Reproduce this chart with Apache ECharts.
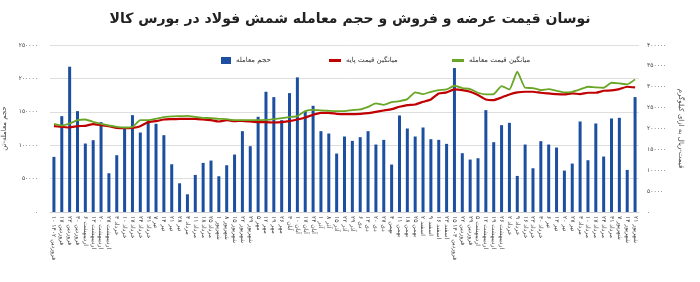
<!DOCTYPE html>
<html>
<head>
    <meta charset="utf-8" />
    <title>steel_billet</title>
    <script src="https://cdn.jsdelivr.net/npm/echarts@6/dist/echarts.min.js"></script>
    <style>
        html, body { margin: 0; padding: 0; background: #fff; }
        #container { width: 700px; height: 282px; }
    </style>
</head>
<body>
    <div id="container"></div>
</body>
</html>
<script>
    // تاریخ جلسات معامله
    var dates = [
        "۱۰ فروردین ۱۴۰۲", "۱۷ فروردین", "۲۳ فروردین", "۳۰ فروردین", "۶ اردیبهشت", "۱۳ اردیبهشت",
        "۲۰ اردیبهشت", "۲۷ اردیبهشت", "۳ خرداد", "۱۰ خرداد", "۱۷ خرداد", "۲۴ خرداد", "۳۱ خرداد",
        "۷ تیر", "۱۴ تیر", "۲۱ تیر", "۲۸ تیر", "۴ مرداد", "۱۱ مرداد", "۱۸ مرداد", "۲۵ مرداد",
        "۱ شهریور", "۸ شهریور", "۱۵ شهریور", "۲۲ شهریور", "۲۹ شهریور", "۵ مهر", "۱۲ مهر", "۱۹ مهر",
        "۲۶ مهر", "۳ آبان", "۱۰ آبان", "۱۷ آبان", "۲۴ آبان", "۱ آذر", "۸ آذر", "۱۵ آذر", "۲۲ آذر",
        "۲۹ آذر", "۶ دی", "۱۳ دی", "۲۰ دی", "۲۷ دی", "۴ بهمن", "۱۱ بهمن", "۱۸ بهمن", "۲۵ بهمن",
        "۲ اسفند", "۹ اسفند", "۱۶ اسفند", "۲۳ اسفند", "۱۵ فروردین ۱۴۰۳", "۲۲ فروردین", "۲۹ فروردین",
        "۵ اردیبهشت", "۱۲ اردیبهشت", "۱۹ اردیبهشت", "۲۶ اردیبهشت", "۲ خرداد", "۹ خرداد", "۱۶ خرداد",
        "۲۳ خرداد", "۳۰ خرداد", "۶ تیر", "۱۳ تیر", "۲۰ تیر", "۲۷ تیر", "۳ مرداد", "۱۰ مرداد",
        "۱۷ مرداد", "۲۴ مرداد", "۳۱ مرداد", "۷ شهریور", "۱۴ شهریور", "۲۱ شهریور"
    ];

    // حجم معامله (تن)
    var volume = [
        82500, 143500, 217500, 151000, 102500, 107500, 134500, 58000, 85000, 125000,
        145000, 119000, 136000, 132000, 115000, 71500, 43000, 26500, 55500, 73500,
        77000, 53500, 70000, 86000, 121000, 98500, 142500, 180000, 172000, 137500,
        178000, 201500, 151000, 159000, 121000, 117500, 87500, 113000, 106500, 112000,
        121000, 101000, 108000, 71000, 144500, 125000, 113000, 126500, 109000, 108000,
        102000, 215500, 88000, 78500, 80500, 152500, 104500, 130000, 133500, 54000,
        101000, 65500, 106000, 101000, 96500, 62000, 72500, 135500, 77500, 132500,
        83000, 140000, 141000, 63000, 172000
    ];

    // میانگین قیمت پایه (ریال)
    var basePrice = [
        205600, 204000, 202400, 205600, 206400, 210400, 208000, 205600, 201600, 200800,
        201600, 205600, 215200, 217600, 221600, 222400, 223200, 223200, 223200, 221600,
        220000, 216800, 220000, 217600, 218400, 216800, 215200, 215200, 214400, 215200,
        217600, 221600, 226400, 232800, 237600, 237600, 235200, 234400, 234400, 235200,
        236800, 240000, 243200, 246400, 252000, 256000, 257600, 264000, 269600, 284000,
        286400, 293600, 292000, 288000, 280000, 269600, 268000, 274400, 281600, 286400,
        288000, 288000, 285600, 284000, 282400, 281600, 284000, 282400, 285600, 285600,
        290400, 291200, 294400, 300000, 298400
    ];

    // میانگین قیمت معامله (ریال)
    var tradePrice = [
        211200, 207200, 212000, 220000, 221600, 216000, 211200, 207200, 204000, 202400,
        204000, 220000, 220000, 223200, 227200, 228800, 229600, 230400, 228000, 225600,
        224800, 223200, 222400, 220000, 220000, 220000, 220000, 220800, 222400, 224800,
        227200, 229600, 241600, 244800, 243200, 242400, 241600, 241600, 244000, 245600,
        252000, 260000, 256800, 263200, 265600, 270400, 286400, 282400, 288000, 292000,
        293600, 302400, 296800, 294400, 285600, 281600, 282400, 301600, 293600, 336000,
        297600, 296800, 292000, 294400, 290400, 286400, 288000, 293600, 300000, 298400,
        297600, 309600, 308000, 305600, 317600
    ];

    function faNum(v) {
        return String(v).replace(/\d/g, function (d) { return "۰۱۲۳۴۵۶۷۸۹".charAt(d); });
    }

    var font = "DejaVu Sans";
    var myChart = echarts.init(document.getElementById("container"), null, { renderer: "canvas" });

    var legendText = { fontFamily: font, fontSize: 7, color: "#333" };

    var option = {
        animation: false,
        textStyle: { fontFamily: font },
        title: {
            text: "نوسان قیمت عرضه و فروش و حجم معامله شمش فولاد در بورس کالا",
            left: "center", top: 7,
            textStyle: { fontFamily: font, fontSize: 14, fontWeight: "bold", color: "#222" }
        },
        legend: [
            { left: 216, top: 52, itemWidth: 10, itemHeight: 7, itemGap: 4, textStyle: legendText,
              data: [{ name: "حجم معامله", icon: "rect" }] },
            { left: 324, top: 52, itemWidth: 12, itemHeight: 3, itemGap: 4, textStyle: legendText,
              data: [{ name: "میانگین قیمت پایه", icon: "rect" }] },
            { left: 447, top: 52, itemWidth: 12, itemHeight: 3, itemGap: 4, textStyle: legendText,
              data: [{ name: "میانگین قیمت معامله", icon: "rect" }] }
        ],
        grid: { left: 50, right: 61, top: 45, bottom: 70, outerBoundsMode: "none", containLabel: false },
        xAxis: {
            type: "category",
            data: dates,
            axisLine: { lineStyle: { color: "#d0d0d0" } },
            axisTick: { show: false },
            axisLabel: {
                interval: 0, rotate: -90, fontSize: 6, color: "#444", margin: 4, fontFamily: font
            }
        },
        yAxis: [
            {
                type: "value", min: 0, max: 250000, interval: 50000,
                name: "حجم معامله-تن", nameLocation: "middle", nameGap: 36, nameRotate: 90,
                nameTextStyle: { fontSize: 7, color: "#444", fontFamily: font },
                axisLabel: { fontSize: 6, color: "#444", margin: 12, formatter: faNum },
                splitLine: { lineStyle: { color: "#dedede" } },
                axisLine: { show: false }, axisTick: { show: false }
            },
            {
                type: "value", min: 0, max: 400000, interval: 50000,
                name: "قیمت-ریال به ازای کیلوگرم", nameLocation: "middle", nameGap: 32, nameRotate: -90,
                nameTextStyle: { fontSize: 7, color: "#444", fontFamily: font },
                axisLabel: { fontSize: 6, color: "#444", margin: 8, formatter: faNum },
                splitLine: { show: false },
                axisLine: { show: false }, axisTick: { show: false }
            }
        ],
        series: [
            {
                name: "حجم معامله", type: "bar", yAxisIndex: 0, data: volume,
                barWidth: 3, itemStyle: { color: "#1c4fa0" }
            },
            {
                name: "میانگین قیمت پایه", type: "line", yAxisIndex: 1, data: basePrice,
                showSymbol: false, symbol: "none", smooth: 0.15,
                lineStyle: { color: "#c00000", width: 2.2 }, itemStyle: { color: "#c00000" }
            },
            {
                name: "میانگین قیمت معامله", type: "line", yAxisIndex: 1, data: tradePrice,
                showSymbol: false, symbol: "none", smooth: 0.15,
                lineStyle: { color: "#6aa626", width: 1.8 }, itemStyle: { color: "#6aa626" }
            }
        ]
    };

    myChart.setOption(option);
</script>
